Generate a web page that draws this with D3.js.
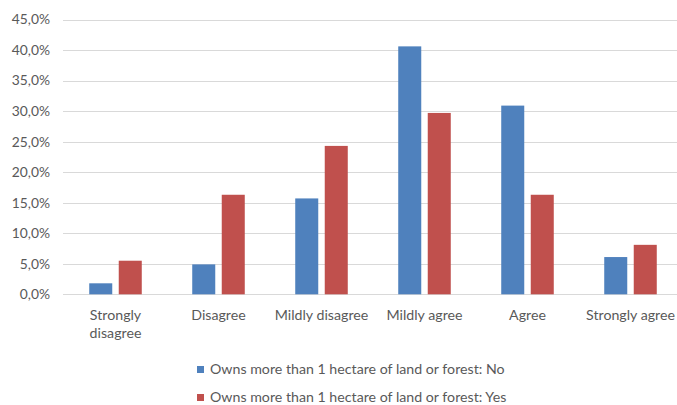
<!DOCTYPE html>
<html>
<head>
<meta charset="utf-8">
<script src="https://cdn.jsdelivr.net/npm/d3@7"></script>
<style>
  html, body { margin: 0; padding: 0; background: #fff; }
  svg { display: block; font-family: Lato, "Open Sans", sans-serif; }
</style>
</head>
<body>
<svg id="chart" width="677" height="405"></svg>
<script>
// Survey response categories (x axis)
const categories = ["Strongly disagree", "Disagree", "Mildly disagree", "Mildly agree", "Agree", "Strongly agree"];

// Series names (legend)
const seriesNames = [
  "Owns more than 1 hectare of land or forest: No",
  "Owns more than 1 hectare of land or forest: Yes"
];

// Share of respondents, in percent
const valuesNo  = [1.8, 4.9, 15.7, 40.6, 30.9, 6.1];
const valuesYes = [5.5, 16.3, 24.3, 29.7, 16.3, 8.1];

// Y axis ticks, in percent
const yTicks = [0, 5, 10, 15, 20, 25, 30, 35, 40, 45];

const colors = ["#4F81BD", "#C0504D"];
const textColor = "#595959";
const gridColor = "#D9D9D9";

const svg = d3.select("#chart");

const plot = { left: 64, right: 682, top: 19.5, bottom: 294.3 };

const x0 = d3.scaleBand()
  .domain(categories)
  .range([plot.left, plot.right])
  .paddingInner(0.49)
  .paddingOuter(0.245);

const x1 = d3.scaleBand()
  .domain(seriesNames)
  .range([0, x0.bandwidth()])
  .paddingInner(0.22)
  .paddingOuter(0);

const y = d3.scaleLinear()
  .domain([0, 45])
  .range([plot.bottom, plot.top]);

const color = d3.scaleOrdinal().domain(seriesNames).range(colors);

const locale = d3.formatLocale({ decimal: ",", thousands: ".", grouping: [3], currency: ["", "€"] });
const fmt = v => locale.format(".1f")(v) + "%";

// Horizontal gridlines
svg.append("g")
  .selectAll("line")
  .data(yTicks)
  .join("line")
  .attr("x1", 63)
  .attr("x2", 677)
  .attr("y1", d => Math.round(y(d)) + 0.5)
  .attr("y2", d => Math.round(y(d)) + 0.5)
  .attr("stroke", gridColor)
  .attr("stroke-width", 1);

// Y axis labels
const yAxis = d3.axisLeft(y)
  .tickValues(yTicks)
  .tickFormat(fmt)
  .tickSize(0)
  .tickPadding(0);

svg.append("g")
  .attr("transform", "translate(50,0)")
  .call(yAxis)
  .call(g => g.select(".domain").remove())
  .call(g => g.selectAll("text")
    .attr("fill", textColor)
    .style("font-size", "13.8px")
    .style("font-family", "Lato, 'Open Sans', sans-serif"));

// Grouped bars
const rows = categories.map((c, i) => ({ category: c, values: [valuesNo[i], valuesYes[i]] }));

svg.append("g")
  .selectAll("g")
  .data(rows)
  .join("g")
  .attr("transform", d => `translate(${x0(d.category)},0)`)
  .selectAll("rect")
  .data(d => d.values.map((v, k) => ({ series: seriesNames[k], value: v })))
  .join("rect")
  .attr("x", d => x1(d.series))
  .attr("y", d => y(d.value))
  .attr("width", x1.bandwidth())
  .attr("height", d => y(0) - y(d.value))
  .attr("fill", d => color(d.series));

// Category labels, wrapped when wider than the available room
const maxLabelWidth = 100;
const lineHeight = 18;
const xLabels = svg.append("g")
  .selectAll("text")
  .data(categories)
  .join("text")
  .attr("x", d => x0(d) + x0.bandwidth() / 2)
  .attr("y", 320)
  .attr("text-anchor", "middle")
  .attr("fill", textColor)
  .style("font-size", "14.2px");

xLabels.each(function(label) {
  const text = d3.select(this);
  const words = label.split(" ");
  const cx = +text.attr("x");
  let line = [];
  let tspan = text.append("tspan").attr("x", cx).attr("dy", 0);
  words.forEach(w => {
    line.push(w);
    tspan.text(line.join(" "));
    if (tspan.node().getComputedTextLength() > maxLabelWidth && line.length > 1) {
      line.pop();
      tspan.text(line.join(" "));
      line = [w];
      tspan = text.append("tspan").attr("x", cx).attr("dy", lineHeight).text(w);
    }
  });
});

// Legend
const legend = svg.append("g")
  .selectAll("g")
  .data(seriesNames)
  .join("g")
  .attr("transform", (d, i) => `translate(197,${366 + i * 28})`);

legend.append("rect")
  .attr("width", 7)
  .attr("height", 7)
  .attr("fill", d => color(d));

legend.append("text")
  .attr("x", 13)
  .attr("y", 7.5)
  .attr("fill", textColor)
  .style("font-size", "14.2px")
  .text(d => d);
</script>
</body>
</html>
